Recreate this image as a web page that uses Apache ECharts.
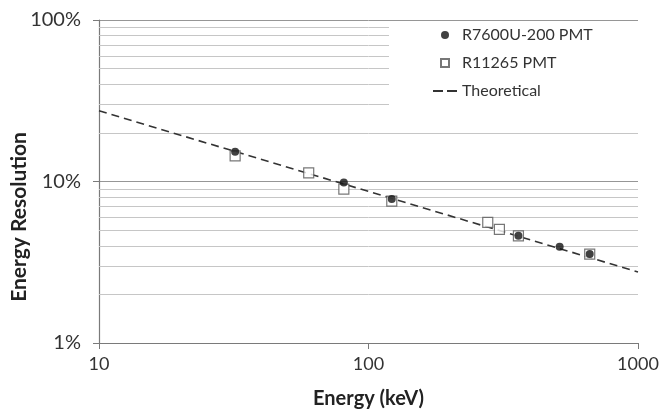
<!DOCTYPE html>
<html>
<head>
<meta charset="utf-8">
<script src="https://cdn.jsdelivr.net/npm/echarts@6/dist/echarts.min.js"></script>
<style>html,body{margin:0;padding:0;background:#fff}#c{width:662px;height:412px}</style>
</head>
<body>
<div id="c"></div>
<script>
// Energy (keV) and energy resolution (%)
const r7600Energy = [32, 81, 122, 360, 512, 662];
const r7600Res    = [15.3, 9.85, 7.8, 4.62, 3.95, 3.56];
const r11265Energy = [32, 60, 81, 122, 277, 306, 360, 662];
const r11265Res    = [14.4, 11.3, 8.98, 7.55, 5.58, 5.05, 4.6, 3.55];
const theoEnergy = [10, 1000];
const theoRes    = [27.4, 2.75];
const seriesNames = ['R7600U-200 PMT', 'R11265 PMT', 'Theoretical'];
const xTicks = [10, 100, 1000];
const yTicks = [1, 10, 100];
const xTitle = 'Energy (keV)';
const yTitle = 'Energy Resolution';

const minorY = [];
for (let d = 1; d <= 10; d *= 10) for (let m = 2; m <= 9; m++) minorY.push(m * d);

const FONT = 'Lato';
const chart = echarts.init(document.getElementById('c'), null, {renderer: 'canvas'});
const zip = (a, b) => a.map((v, i) => [v, b[i]]);

chart.setOption({
  animation: false,
  backgroundColor: '#fff',
  textStyle: {fontFamily: FONT},
  grid: {left: 99, right: 24, top: 20, bottom: 69, containLabel: false, outerBoundsMode: 'none'},
  graphic: [{
    type: 'text', x: 19, y: 217, rotation: Math.PI / 2,
    style: {text: yTitle, fontFamily: FONT, fontSize: 21, fontWeight: 'bold', fill: '#222',
      textAlign: 'center', textVerticalAlign: 'middle'}
  }],
  xAxis: {
    type: 'log', logBase: 10, min: 10, max: 1000,
    name: xTitle, nameLocation: 'middle', nameGap: 46,
    nameTextStyle: {fontFamily: FONT, fontSize: 20, fontWeight: 'bold', color: '#222'},
    axisLine: {lineStyle: {color: '#7a7a7a', width: 1.2}},
    axisTick: {show: true, length: 6, inside: false, lineStyle: {color: '#7a7a7a'}},
    axisLabel: {fontFamily: FONT, fontSize: 18, color: '#333', margin: 12,
      formatter: v => xTicks.includes(Math.round(v)) ? String(Math.round(v)) : ''},
    splitLine: {show: false}
  },
  yAxis: {
    type: 'log', logBase: 10, min: 1, max: 100,
    axisLine: {show: true, lineStyle: {color: '#7a7a7a', width: 1.2}},
    axisTick: {show: true, length: 6, lineStyle: {color: '#7a7a7a'}},
    axisLabel: {fontFamily: FONT, fontSize: 20, color: '#333', margin: 18,
      formatter: v => yTicks.includes(Math.round(v)) ? Math.round(v) + '%' : ''},
    splitLine: {show: true, lineStyle: {color: '#969696', width: 1}}
  },
  legend: {
    orient: 'vertical', left: 389, top: 22, z: 10,
    padding: [5, 46, 30, 44],
    backgroundColor: '#fff',
    itemWidth: 24, itemHeight: 8, itemGap: 12,
    textStyle: {fontFamily: FONT, fontSize: 16, color: '#333'},
    data: [
      {name: seriesNames[0], icon: 'circle'},
      {name: seriesNames[1], icon: 'path://M0,0H10V10H0Z'},
      {name: seriesNames[2], icon: 'path://M0,0H10V2H0Z M14,0H24V2H14Z'}
    ]
  },
  series: [
    {
      name: 'minor', type: 'line', data: [], z: 1, silent: true,
      markLine: {
        silent: true, symbol: 'none', label: {show: false}, animation: false, z: 1,
        lineStyle: {color: '#c6c6c6', type: 'solid', width: 1},
        data: minorY.map(v => ({yAxis: v}))
      }
    },
    {
      name: seriesNames[2], type: 'line', data: zip(theoEnergy, theoRes),
      symbol: 'none', z: 3,
      lineStyle: {color: '#333', width: 1.6, type: [8, 5]},
      itemStyle: {color: '#333'}
    },
    {
      name: seriesNames[1], type: 'scatter', data: zip(r11265Energy, r11265Res),
      symbol: 'rect', symbolSize: 10, z: 4,
      itemStyle: {color: '#fff', borderColor: '#555', borderWidth: 1.2}
    },
    {
      name: seriesNames[0], type: 'scatter', data: zip(r7600Energy, r7600Res),
      symbol: 'circle', symbolSize: 8, z: 5,
      itemStyle: {color: '#111'}
    }
  ]
});
</script>
</body>
</html>
